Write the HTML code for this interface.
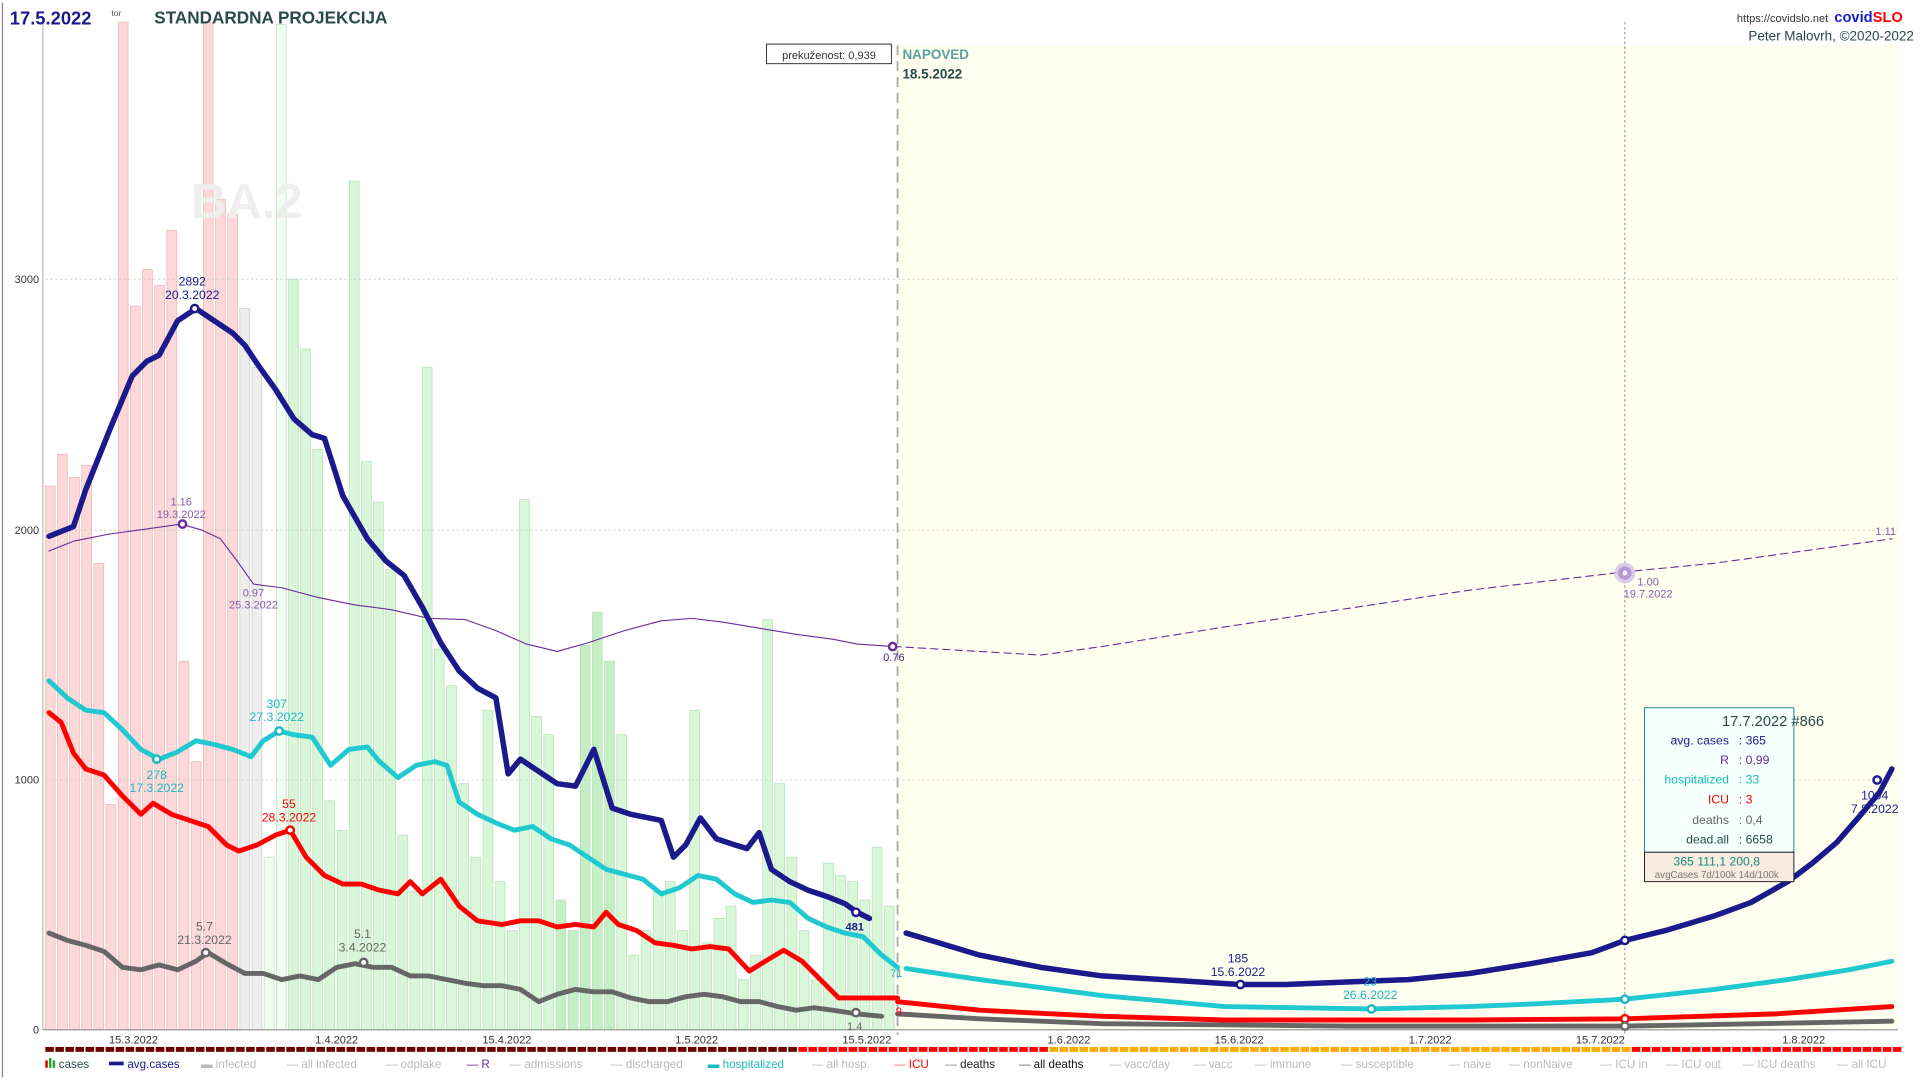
<!DOCTYPE html>
<html><head><meta charset="utf-8"><style>
html,body{margin:0;padding:0;background:#fff;overflow:hidden}
svg{display:block;font-family:"Liberation Sans",sans-serif}
</style></head><body>
<svg id="s" width="1920" height="1080" viewBox="0 0 1568 882" xmlns="http://www.w3.org/2000/svg">
<rect x="0" y="0" width="1568" height="882" fill="#fff"/>
<rect x="733" y="37" width="817" height="804" fill="#fffff0"/>
<g id="bars"></g>
<g stroke="#ccc" stroke-dasharray="2,2" stroke-width="0.7">
<line x1="37" y1="228" x2="1550" y2="228"/><line x1="37" y1="433" x2="1550" y2="433"/><line x1="37" y1="637" x2="1550" y2="637"/>
</g>
<line x1="733" y1="37" x2="733" y2="845" stroke="#aaa" stroke-width="1.5" stroke-dasharray="8,5"/>
<line x1="1327" y1="18" x2="1327" y2="845" stroke="#777" stroke-width="0.7" stroke-dasharray="2,2"/>
<line x1="35" y1="841" x2="1550" y2="841" stroke="#999" stroke-width="1"/>
<line x1="35" y1="18" x2="35" y2="841" stroke="#bbb" stroke-width="1"/>
<line x1="2" y1="2" x2="2" y2="880" stroke="#888"/>
<text x="156" y="178" font-size="40" font-weight="bold" fill="#eee">BA.2</text>
<g font-size="9" fill="#333" text-anchor="end">
<text x="32" y="231">3000</text><text x="32" y="436">2000</text><text x="32" y="640">1000</text><text x="32" y="844">0</text>
</g>
<g id="lines" fill="none" stroke-linejoin="round" stroke-linecap="round"></g>
<g id="strip"></g>
<g font-size="9" fill="#333" text-anchor="middle">
<text x="109" y="852">15.3.2022</text><text x="275" y="852">1.4.2022</text><text x="414" y="852">15.4.2022</text><text x="569" y="852">1.5.2022</text><text x="708" y="852">15.5.2022</text><text x="873" y="852">1.6.2022</text><text x="1012" y="852">15.6.2022</text><text x="1168" y="852">1.7.2022</text><text x="1307" y="852">15.7.2022</text><text x="1473" y="852">1.8.2022</text>
</g>
<g font-size="10" text-anchor="middle">
<text x="157" y="233" fill="#1a1a8c">2892</text><text x="157" y="244" fill="#1a1a8c">20.3.2022</text>
<text x="148" y="413" fill="#8a5aaa" font-size="9">1.16</text><text x="148" y="423" fill="#8a5aaa" font-size="9">19.3.2022</text>
<text x="207" y="487" fill="#8a5aaa" font-size="9">0.97</text><text x="207" y="497" fill="#8a5aaa" font-size="9">25.3.2022</text>
<text x="730" y="540" fill="#4a2a7a" font-size="9">0.76</text>
<text x="1346" y="478" fill="#8a5aaa" font-size="9">1.00</text><text x="1346" y="488" fill="#8a5aaa" font-size="9">19.7.2022</text>
<text x="1540" y="437" fill="#8a5aaa" font-size="9">1.11</text>
<text x="226" y="578" fill="#1ab8c0">307</text><text x="226" y="589" fill="#1ab8c0">27.3.2022</text>
<text x="128" y="636" fill="#1ab8c0">278</text><text x="128" y="647" fill="#1ab8c0">17.3.2022</text>
<text x="236" y="660" fill="#f00">55</text><text x="236" y="671" fill="#f00">28.3.2022</text>
<text x="167" y="760" fill="#666">5.7</text><text x="167" y="771" fill="#666">21.3.2022</text>
<text x="296" y="766" fill="#666">5.1</text><text x="296" y="777" fill="#666">3.4.2022</text>
<text x="698" y="760" fill="#1a1a8c" font-weight="bold" font-size="9">481</text>
<text x="698" y="760" fill="#1a1a8c" font-size="9"></text>
<text x="732" y="798" fill="#1ab8c0" font-size="9">71</text>
<text x="734" y="829" fill="#f00" font-size="9">9</text>
<text x="698" y="841" fill="#666" font-size="9">1.4</text>
<text x="1011" y="786" fill="#1a1a8c">185</text><text x="1011" y="797" fill="#1a1a8c">15.6.2022</text>
<text x="1119" y="805" fill="#1ab8c0">23</text><text x="1119" y="816" fill="#1ab8c0">26.6.2022</text>
<text x="1531" y="653" fill="#1a1a8c">1004</text><text x="1531" y="664" fill="#1a1a8c">7.8.2022</text>
</g>
<text x="8" y="20" font-size="15" font-weight="bold" fill="#1a1a8c">17.5.2022</text>
<text x="91" y="13" font-size="7" fill="#555">tor</text>
<text x="126" y="19" font-size="14" font-weight="bold" fill="#2a4a4a">STANDARDNA PROJEKCIJA</text>
<rect x="626" y="36" width="102" height="16" fill="#fff" stroke="#333" stroke-width="0.8"/>
<text x="677" y="48" font-size="9" text-anchor="middle" fill="#333">prekuženost: 0,939</text>
<text x="737" y="48" font-size="11" font-weight="bold" fill="#5aa0a0">NAPOVED</text>
<text x="737" y="64" font-size="11" font-weight="bold" fill="#2a4a4a">18.5.2022</text>
<text x="1493" y="18" font-size="9" text-anchor="end" fill="#333">https://covidslo.net</text>
<text x="1498" y="18" font-size="12" font-weight="bold" fill="#1a1acc">covid<tspan fill="#f00">SLO</tspan></text>
<text x="1563" y="33" font-size="11" text-anchor="end" fill="#2a4a4a">Peter Malovrh, ©2020-2022</text>
<rect x="1343" y="578" width="122" height="118" fill="#f5fffc" stroke="#1a8a8a" stroke-width="0.8"/>
<rect x="1343" y="696" width="122" height="24" fill="#f8ece0" stroke="#222" stroke-width="0.8"/>
<g font-size="10" text-anchor="end">
<text x="1448" y="593" font-size="12" text-anchor="middle" fill="#2a4a4a">17.7.2022 #866</text>
<text x="1412" y="608" fill="#1a1a8c">avg. cases</text><text x="1420" y="608" fill="#1a1a8c" text-anchor="start">:  365</text>
<text x="1412" y="624" fill="#6a2a9a">R</text><text x="1420" y="624" fill="#6a2a9a" text-anchor="start">:  0,99</text>
<text x="1412" y="640" fill="#1ab8c0">hospitalized</text><text x="1420" y="640" fill="#1ab8c0" text-anchor="start">:  33</text>
<text x="1412" y="656" fill="#f00">ICU</text><text x="1420" y="656" fill="#f00" text-anchor="start">:  3</text>
<text x="1412" y="673" fill="#666">deaths</text><text x="1420" y="673" fill="#666" text-anchor="start">:  0,4</text>
<text x="1412" y="689" fill="#2a4a4a">dead.all</text><text x="1420" y="689" fill="#2a4a4a" text-anchor="start">:  6658</text>
<text x="1402" y="707" text-anchor="middle" fill="#1a8a7a">365  111,1  200,8</text>
<text x="1402" y="717" font-size="8" text-anchor="middle" fill="#777">avgCases 7d/100k 14d/100k</text>
</g>
<g font-size="9.5" fill="#bbb">
<rect x="37" y="866" width="2" height="6" fill="#c00"/><rect x="40" y="864" width="2" height="8" fill="#2a2"/><rect x="43" y="866" width="2" height="6" fill="#2a2"/>
<text x="48" y="872" fill="#2a4a4a">cases</text>
<rect x="89" y="867" width="12" height="3" fill="#1a1a8c"/><text x="104" y="872" fill="#1a1a8c">avg.cases</text>
<text x="164" y="872">▬ infected</text><text x="234" y="872">— all infected</text><text x="315" y="872">— odplake</text>
<text x="381" y="872" fill="#6a2a9a">— R</text><text x="416" y="872">— admissions</text><text x="499" y="872">— discharged</text>
<text x="578" y="872" fill="#1ab8c0">▬ hospitalized</text><text x="663" y="872">— all hosp.</text>
<text x="730" y="872" fill="#f00"><tspan fill="#f66">— </tspan>ICU</text>
<text x="772" y="872" fill="#222"><tspan fill="#888">— </tspan>deaths</text><text x="832" y="872" fill="#111"><tspan fill="#666">— </tspan>all deaths</text>
<text x="906" y="872">— vacc/day</text><text x="975" y="872">— vacc</text><text x="1025" y="872">— immune</text><text x="1095" y="872">— susceptible</text>
<text x="1183" y="872">— naive</text><text x="1232" y="872">— nonNaive</text><text x="1307" y="872">— ICU in</text><text x="1361" y="872">— ICU out</text><text x="1423" y="872">— ICU deaths</text><text x="1500" y="872">— all ICU</text>
</g>
<g id="marks" fill="#fff" stroke-width="2"></g>
</svg>
<script>
var NS="http://www.w3.org/2000/svg";
function el(p,t,a){var e=document.createElementNS(NS,t);for(var k in a)e.setAttribute(k,a[k]);p.appendChild(e);return e;}
var tops=[397,371,390,380,460,657,10,250,220,233,188,540,622,10,163,175,252,300,700,20,228,285,367,654,678,148,377,410,465,682,728,300,530,560,640,700,580,720,760,408,585,600,735,760,527,500,540,600,780,760,728,720,760,580,770,750,740,800,780,506,640,700,760,800,705,715,720,735,692,740];
var g=document.getElementById('bars');
for(var i=0;i<tops.length;i++){var x=37+i*9.93;var t=Math.max(tops[i],18);
var f=i<16?'#fdd8d8':(i<18?'#eeeeee':(i<20?'#f2fdf2':'#d8f7d8'));var s=i<16?'#e8b8b8':(i<18?'#ccc':'#b8e0b8');
if(i>=42&&i<=46)f='#c4efc4';
el(g,'rect',{x:x,y:t,width:8,height:841-t,fill:f,stroke:s,'stroke-width':0.6});}
function P(a){return a.map(function(p){return p.join(',')}).join(' ');}
var L=document.getElementById('lines');
function line(pts,c,w,d){var a={points:P(pts),stroke:c,'stroke-width':w};if(d)a['stroke-dasharray']=d;el(L,'polyline',a);}
line([[40,450],[60,442],[90,436],[120,432],[148,428],[165,433],[180,440],[195,460],[207,477],[230,480],[260,488],[290,494],[320,498],[350,505],[380,506],[405,515],[430,526],[455,532],[480,525],[510,515],[540,507],[565,505],[590,508],[620,513],[650,518],[680,522],[700,526],[730,528]],'#6a2a9a',0.9);
line([[730,528],[800,532],[850,535],[900,528],[1000,512],[1100,497],[1200,482],[1327,467],[1400,460],[1545,440]],'#6a2a9a',0.9,'6,4');
var grey=[[40,762],[55,768],[70,772],[85,777],[100,790],[115,792],[130,788],[145,792],[160,785],[170,778],[185,787],[200,795],[215,795],[230,800],[245,797],[260,800],[275,790],[290,787],[305,790],[320,790],[335,797],[350,797],[365,800],[380,803],[395,805],[410,805],[425,808],[440,818],[455,812],[470,808],[485,810],[500,810],[515,815],[530,818],[545,818],[560,814],[575,812],[590,814],[605,818],[620,818],[635,822],[650,825],[665,823],[680,825],[700,828],[720,830]];
line(grey,'#666',4);line([[733,828],[800,832],[900,836],[1100,838],[1327,838],[1545,834]],'#666',4);
line([[40,582],[50,590],[60,615],[70,628],[85,633],[100,650],[115,665],[125,656],[140,665],[155,670],[170,675],[185,690],[195,695],[210,690],[225,682],[237,678],[250,700],[265,715],[280,722],[295,722],[310,727],[325,730],[335,720],[345,730],[360,718],[375,740],[390,752],[410,755],[425,752],[440,752],[455,757],[470,755],[485,757],[495,745],[505,755],[520,760],[535,770],[550,772],[565,775],[580,773],[595,775],[612,793],[625,785],[640,776],[655,785],[670,800],[685,815],[733,815]],'#f00',4);
line([[733,818],[800,825],[900,830],[1000,833],[1200,833],[1327,832],[1450,828],[1545,822]],'#f00',4);
line([[40,556],[55,570],[70,580],[85,582],[100,596],[115,612],[130,620],[145,614],[160,605],[175,608],[190,612],[205,618],[215,605],[228,597],[240,600],[255,602],[270,625],[285,612],[300,610],[310,622],[325,635],[340,625],[355,622],[365,625],[375,655],[390,665],[405,672],[420,678],[435,675],[450,685],[465,690],[480,700],[495,710],[510,714],[525,718],[540,730],[555,725],[570,715],[585,718],[600,730],[615,737],[630,735],[645,737],[660,750],[675,757],[690,762],[705,765],[720,780],[733,790]],'#20c8d0',4);
line([[740,791],[800,800],[900,813],[1000,822],[1120,824],[1200,822],[1250,820],[1327,816],[1400,808],[1460,800],[1510,792],[1545,785]],'#20c8d0',4);
line([[40,438],[60,430],[70,400],[90,350],[108,307],[120,295],[130,290],[145,262],[160,252],[175,262],[190,272],[200,282],[210,297],[225,318],[240,342],[255,355],[265,358],[280,405],[300,440],[315,458],[330,470],[345,496],[360,525],[375,548],[390,562],[405,570],[415,632],[425,620],[440,630],[455,640],[470,642],[485,612],[500,660],[515,665],[530,668],[540,670],[550,700],[560,690],[572,668],[585,685],[600,690],[610,693],[620,680],[630,710],[645,720],[660,727],[675,732],[690,738],[700,745],[710,750]],'#1a1a8c',4.5);
line([[740,762],[760,768],[800,780],[850,790],[900,797],[950,800],[1012,804],[1050,804],[1100,802],[1150,800],[1200,795],[1250,787],[1300,778],[1327,768],[1360,760],[1400,748],[1430,737],[1460,720],[1480,705],[1500,688],[1520,665],[1535,647],[1545,628]],'#1a1a8c',4.5);
var M=document.getElementById('marks');
[[159,252,'#1a1a8c'],[128,620,'#1ab8c0'],[228,597,'#1ab8c0'],[237,678,'#f00'],[168,778,'#666'],[297,786,'#666'],[699,745,'#1a1a8c'],[699,827,'#666'],[1013,804,'#1a1a8c'],[1120,824,'#1ab8c0'],[1533,637,'#1a1a8c'],[1327,768,'#1a1a8c'],[1327,816,'#1ab8c0'],[1327,832,'#f00'],[1327,838,'#666'],[729,528,'#6a2a9a'],[149,428,'#6a2a9a']].forEach(function(m){el(M,'circle',{cx:m[0],cy:m[1],r:3,stroke:m[2]});});
el(M,'circle',{cx:1327,cy:468,r:7,fill:'#b090d0',stroke:'#d8c8e8','stroke-width':3,opacity:0.9});
el(M,'circle',{cx:1327,cy:468,r:2,fill:'#fff',stroke:'none'});
var S=document.getElementById('strip');
for(var x=37;x<1548;x+=8.2){var c=x<645?'#6b0000':(x<853?'#ff0000':(x<1330?'#ffaa00':'#ff0000'));el(S,'rect',{x:x,y:855,width:7,height:4,fill:c});}
</script>
</body></html>
